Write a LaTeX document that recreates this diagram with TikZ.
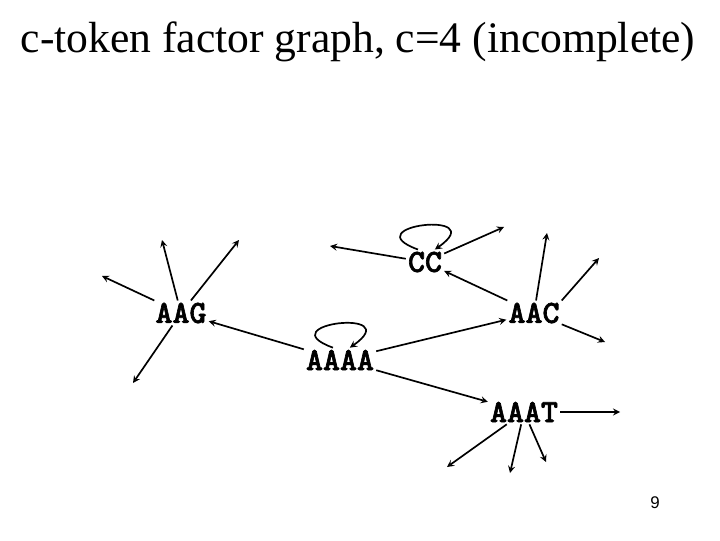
\documentclass[tikz,border=0pt]{standalone}
\usepackage{fontspec}
\setmainfont{Liberation Serif}
\setsansfont{Liberation Sans}
\newfontfamily\tokfont[Extension=.otf, FakeBold=2]{lmmonolt10-bold}

\begin{document}
\begin{tikzpicture}[x=0.025cm, y=0.025cm, >=stealth, line width=1.2pt,
    tok/.style={inner sep=1pt, font=\fontsize{23}{26}\selectfont\tokfont}]
    \useasboundingbox (0,0) rectangle (720,540);

    \node [anchor=base] (title) at (358,487) {\fontsize{31}{36}\selectfont c-token factor graph, c=4 (incomplete)};

    \node [tok] (cc) at (425,278) {CC};
    \node [tok] (aag) at (181,227) {AAG};
    \node [tok] (aac) at (534,227) {AAC};
    \node [tok] (aaaa) at (340,180) {AAAA};
    \node [tok] (aaat) at (524,128) {AAAT};

    \coordinate (aag1) at (102,264);
    \coordinate (aag2) at (162,300);
    \coordinate (aag3) at (239,300);
    \coordinate (aag4) at (133,157);
    \coordinate (cc1) at (330,294);
    \coordinate (cc2) at (504,313);
    \coordinate (aac1) at (547,307);
    \coordinate (aac2) at (599,282);
    \coordinate (aac3) at (605,198);
    \coordinate (aaat1) at (620,128);
    \coordinate (aaat2) at (447,73);
    \coordinate (aaat3) at (510,67);
    \coordinate (aaat4) at (546,78);

    \draw [->] (aag) -- (aag1);
    \draw [->] (aag) -- (aag2);
    \draw [->] (aag) -- (aag3);
    \draw [->] (aag) -- (aag4);

    \draw [->] ([xshift=-5pt]cc.north) .. controls +(160:70) and +(35:70) .. ([xshift=7pt]cc.north);
    \draw [->] (cc) -- (cc1);
    \draw [->] (cc) -- (cc2);

    \draw [->] (aac) -- (cc);
    \draw [->] (aac) -- (aac1);
    \draw [->] (aac.north east) -- (aac2);
    \draw [->] (aac) -- (aac3);

    \draw [->] ([xshift=-5pt]aaaa.north) .. controls +(160:70) and +(35:70) .. ([xshift=7pt]aaaa.north);
    \draw [->] (aaaa) -- (aag);
    \draw [->] (aaaa) -- (aac);
    \draw [->] (aaaa) -- (aaat);

    \draw [->] (aaat.east) -- (aaat1);
    \draw [->] (aaat) -- (aaat2);
    \draw [->] (aaat) -- (aaat3);
    \draw [->] (aaat) -- (aaat4);

    \node [font=\fontsize{12}{14}\selectfont\sffamily] (page) at (655,37) {9};
\end{tikzpicture}
\end{document}
